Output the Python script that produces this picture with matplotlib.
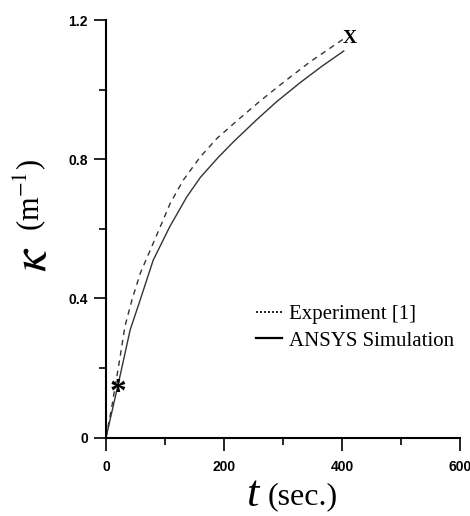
import matplotlib
matplotlib.use('Agg')
import matplotlib.pyplot as plt
from matplotlib.lines import Line2D
from matplotlib.ticker import MultipleLocator

plt.rcParams['mathtext.fontset'] = 'stix'

# -------------------------------
# Data
# -------------------------------
t_exp = [0, 10, 24, 32, 44, 58, 75, 92, 109, 131, 159, 188, 227, 261, 300, 346, 402]
k_exp = [0, 0.09, 0.233, 0.319, 0.396, 0.472, 0.539, 0.606, 0.674, 0.740,
         0.805, 0.860, 0.918, 0.967, 1.020, 1.080, 1.145]

t_sim = [0, 21, 41, 58, 80, 108, 137, 160, 190, 216, 255, 289, 329, 365, 403]
k_sim = [0, 0.156, 0.31, 0.396, 0.51, 0.606, 0.692, 0.748, 0.805, 0.850, 0.913,
         0.965, 1.020, 1.066, 1.111]

star_pt = (20, 0.151)
x_pt = (413, 1.146)

x_major = [0, 200, 400, 600]
y_major = [0, 0.4, 0.8, 1.2]
y_major_labels = ['0', '0.4', '0.8', '1.2']

# -------------------------------
# Figure
# -------------------------------
fig = plt.figure(figsize=(4.7, 5.16), dpi=100)
ax = fig.add_axes([0.2255, 0.1517, 0.7532, 0.8095])

ax.plot(t_exp, k_exp, color='#333333', lw=1.0, dashes=(4, 3.5))
ax.plot(t_sim, k_sim, color='#333333', lw=1.0)

serif = ['Liberation Serif', 'DejaVu Serif']
# end markers are drawn as text in the original
ax.annotate('*', star_pt, xytext=(0, -5), textcoords='offset points',
            family=serif, fontweight='bold', fontsize=24, ha='center', va='center')
ax.annotate('X', x_pt, xytext=(0, 0), textcoords='offset points',
            family=serif, fontweight='bold', fontsize=14, ha='center', va='center')

ax.set_xlim(0, 600)
ax.set_ylim(0, 1.2)
ax.spines['top'].set_visible(False)
ax.spines['right'].set_visible(False)
for s in ['left', 'bottom']:
    ax.spines[s].set_linewidth(1.5)

ax.set_xticks(x_major)
ax.set_yticks(y_major)
ax.set_yticklabels(y_major_labels)
ax.xaxis.set_minor_locator(MultipleLocator(100))
ax.yaxis.set_minor_locator(MultipleLocator(0.2))
ax.tick_params(which='major', direction='out', length=9, width=1.2)
ax.tick_params(which='minor', direction='out', length=5, width=1.2)
ax.tick_params(axis='x', which='major', pad=7)
ax.tick_params(axis='y', which='major', pad=4)
tick_font = ['Liberation Sans Narrow', 'Liberation Sans']
for lab in ax.get_xticklabels() + ax.get_yticklabels():
    lab.set_family(tick_font)
    lab.set_fontweight('bold')
    lab.set_fontsize(10)

# legend
handles = [Line2D([], [], color='black', lw=1.2, ls=(0, (1.2, 1.2))),
           Line2D([], [], color='black', lw=1.6)]
ax.legend(handles, ['Experiment [1]', 'ANSYS Simulation'], loc='upper left',
          bbox_to_anchor=(0.37, 0.363), frameon=False, handlelength=1.25,
          handletextpad=0.35, labelspacing=0.32, prop={'family': serif, 'size': 15})

# axis labels
fig.text(0.536, 0.040, 't', family=serif, style='italic', fontsize=32,
         ha='center', va='center')
fig.text(0.643, 0.038, '(sec.)', family=serif, fontsize=23, ha='center', va='center')
fig.text(0.068, 0.497, r'$\kappa$', fontsize=36, rotation=90, ha='center', va='center')
fig.text(0.064, 0.622, r'(m$^{-1}$)', family=serif, fontsize=22, rotation=90,
         ha='center', va='center')

fig.savefig('out.png', dpi=100)
